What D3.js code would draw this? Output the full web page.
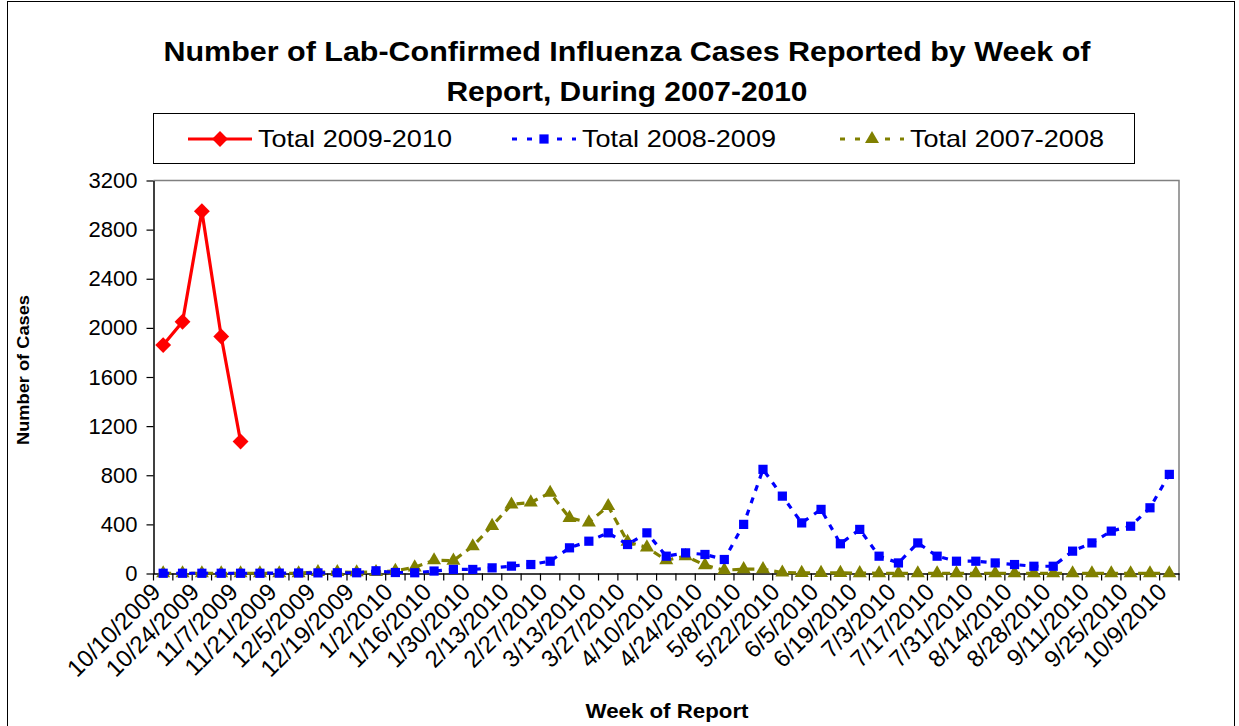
<!DOCTYPE html>
<html>
<head>
<meta charset="utf-8">
<script src="https://cdn.jsdelivr.net/npm/d3@7"></script>
<style>
  body { margin: 0; background: #fff; }
  svg { font-family: 'Liberation Sans', Arial, sans-serif; }
</style>
</head>
<body>
<svg id="chart" width="1239" height="726"></svg>
<script>
// weekly report dates, 10/10/2009 .. 10/9/2010
const weeks = ['10/10/2009','10/17/2009','10/24/2009','10/31/2009','11/7/2009','11/14/2009','11/21/2009','11/28/2009',
  '12/5/2009','12/12/2009','12/19/2009','12/26/2009','1/2/2010','1/9/2010','1/16/2010','1/23/2010','1/30/2010',
  '2/6/2010','2/13/2010','2/20/2010','2/27/2010','3/6/2010','3/13/2010','3/20/2010','3/27/2010','4/3/2010',
  '4/10/2010','4/17/2010','4/24/2010','5/1/2010','5/8/2010','5/15/2010','5/22/2010','5/29/2010','6/5/2010',
  '6/12/2010','6/19/2010','6/26/2010','7/3/2010','7/10/2010','7/17/2010','7/24/2010','7/31/2010','8/7/2010',
  '8/14/2010','8/21/2010','8/28/2010','9/4/2010','9/11/2010','9/18/2010','9/25/2010','10/2/2010','10/9/2010']

const total0910 = [1860, 2050, 2950, 1930, 1075]

const total0809 = [2, 2, 2, 2, 2, 2, 3, 4, 5, 6, 6, 22, 8, 6, 20, 33, 33, 46, 60, 73, 100, 209, 263, 331, 236, 331,
  141, 168, 155, 114, 400, 848, 630, 412, 522, 242, 359, 141, 86, 249, 141, 100, 100, 86, 73, 59, 59, 182, 249,
  345, 385, 535, 807]

const total0708 = [2, 2, 2, 2, 2, 2, 2, 2, 12, 12, 10, 12, 22, 50, 108, 105, 222, 388, 562, 579, 657, 453, 416,
  549, 258, 212, 108, 141, 68, 27, 35, 35, 8, 5, 5, 5, 3, 2, 2, 2, 2, 2, 2, 2, 2, 2, 2, 2, 2, 2, 2, 2, 2]

const yTicks = [0, 400, 800, 1200, 1600, 2000, 2400, 2800, 3200]

const red = '#ff0000'
const blue = '#0000ff'
const olive = '#808000'

const svg = d3.select('#chart')

// outer chart border
svg.append('rect')
  .attr('x', 7.5).attr('y', 1.5).attr('width', 1227).attr('height', 740)
  .attr('fill', 'none').attr('stroke', 'black').attr('stroke-width', 1)

const plotL = 153.5, plotR = 1179, plotT = 180.5, plotB = 573.5

const x = d3.scaleBand().domain(weeks).range([plotL, plotR]).padding(0)
const y = d3.scaleLinear().domain([0, 3200]).range([plotB, plotT])
const cx = d => x(d) + x.bandwidth() / 2

// plot area frame (top and right in gray)
svg.append('path')
  .attr('d', `M${plotL},${plotT}H${plotR}V${plotB}`)
  .attr('fill', 'none').attr('stroke', '#808080').attr('stroke-width', 1.5)

// y axis
const yAxis = svg.append('g')
  .attr('transform', `translate(${plotL},0)`)
  .call(d3.axisLeft(y).tickValues(yTicks).tickFormat(d3.format('d')).tickSize(7).tickSizeOuter(0).tickPadding(9))
yAxis.select('.domain').attr('stroke', 'black').attr('stroke-width', 1.5)
yAxis.selectAll('.tick line').attr('stroke', 'black').attr('stroke-width', 1.2)
yAxis.selectAll('text').attr('font-size', 22).attr('fill', 'black')

// x axis: tick marks at category boundaries
const bounds = weeks.map(w => x(w)).concat([x(weeks[weeks.length - 1]) + x.bandwidth()])
svg.append('g').selectAll('line').data(bounds).enter().append('line')
  .attr('x1', d => d).attr('x2', d => d)
  .attr('y1', plotB).attr('y2', plotB + 7)
  .attr('stroke', 'black').attr('stroke-width', 1.2)

const xAxis = svg.append('g')
  .attr('transform', `translate(0,${plotB})`)
  .call(d3.axisBottom(x).tickValues(weeks.filter((w, i) => i % 2 === 0)).tickSize(0).tickSizeOuter(0))
xAxis.select('.domain').attr('stroke', 'black').attr('stroke-width', 1.5)
xAxis.selectAll('text')
  .attr('font-size', 24).attr('fill', 'black')
  .attr('text-anchor', 'end')
  .attr('transform', 'translate(-13,8) rotate(-45)')
  .attr('dy', '0.7em')
  .attr('y', 0)

// series
const series = [
  { name: 'Total 2009-2010', values: total0910, color: red, dash: null, marker: 'diamond' },
  { name: 'Total 2008-2009', values: total0809, color: blue, dash: '6,7', marker: 'square' },
  { name: 'Total 2007-2008', values: total0708, color: olive, dash: '8,6', marker: 'triangle' }
]

const symbolFor = m => {
  if (m === 'diamond') return d3.symbol().type(d3.symbolDiamond2).size(160)
  if (m === 'square') return d3.symbol().type(d3.symbolSquare).size(85)
  return d3.symbol().type(d3.symbolTriangle).size(85)
}

const line = d3.line().x(d => cx(d.w)).y(d => y(d.v))

// draw older series first so the red line is on top
series.slice().reverse().forEach(s => {
  const pts = s.values.map((v, i) => ({ w: weeks[i], v: v }))
  svg.append('path').datum(pts)
    .attr('d', line)
    .attr('fill', 'none')
    .attr('stroke', s.color)
    .attr('stroke-width', 3.2)
    .attr('stroke-dasharray', s.dash)
  svg.append('g').selectAll('path').data(pts).enter().append('path')
    .attr('d', symbolFor(s.marker))
    .attr('transform', d => `translate(${cx(d.w)},${y(d.v)})`)
    .attr('fill', s.color)
})

// legend
svg.append('rect')
  .attr('x', 153.5).attr('y', 113.5).attr('width', 981).attr('height', 50)
  .attr('fill', 'white').attr('stroke', 'black').attr('stroke-width', 1)
const legendX = [188, 512, 840]
series.forEach((s, i) => {
  const g = svg.append('g').attr('transform', `translate(${legendX[i]},139)`)
  g.append('line').attr('x1', 0).attr('x2', 64).attr('y1', 0).attr('y2', 0)
    .attr('stroke', s.color).attr('stroke-width', 3.2).attr('stroke-dasharray', s.dash ? '5,10' : null)
  g.append('path').attr('d', symbolFor(s.marker)).attr('transform', 'translate(32,0)').attr('fill', s.color)
  g.append('text').attr('x', 70).attr('y', 0).attr('dy', '0.35em')
    .attr('font-size', 24).attr('fill', 'black')
    .attr('textLength', 194).attr('lengthAdjust', 'spacingAndGlyphs')
    .text(s.name)
})

// titles
svg.append('text').attr('x', 627).attr('y', 61).attr('text-anchor', 'middle')
  .attr('font-size', 28).attr('font-weight', 'bold')
  .attr('textLength', 927).attr('lengthAdjust', 'spacingAndGlyphs')
  .text('Number of Lab-Confirmed Influenza Cases Reported by Week of')
svg.append('text').attr('x', 627).attr('y', 101).attr('text-anchor', 'middle')
  .attr('font-size', 28).attr('font-weight', 'bold')
  .attr('textLength', 361).attr('lengthAdjust', 'spacingAndGlyphs')
  .text('Report, During 2007-2010')

svg.append('text').attr('transform', 'translate(29,370) rotate(-90)')
  .attr('text-anchor', 'middle').attr('font-size', 17).attr('font-weight', 'bold')
  .attr('textLength', 150).attr('lengthAdjust', 'spacingAndGlyphs')
  .text('Number of Cases')

svg.append('text').attr('x', 667).attr('y', 718).attr('text-anchor', 'middle')
  .attr('font-size', 20).attr('font-weight', 'bold')
  .attr('textLength', 163).attr('lengthAdjust', 'spacingAndGlyphs')
  .text('Week of Report')
</script>
</body>
</html>
